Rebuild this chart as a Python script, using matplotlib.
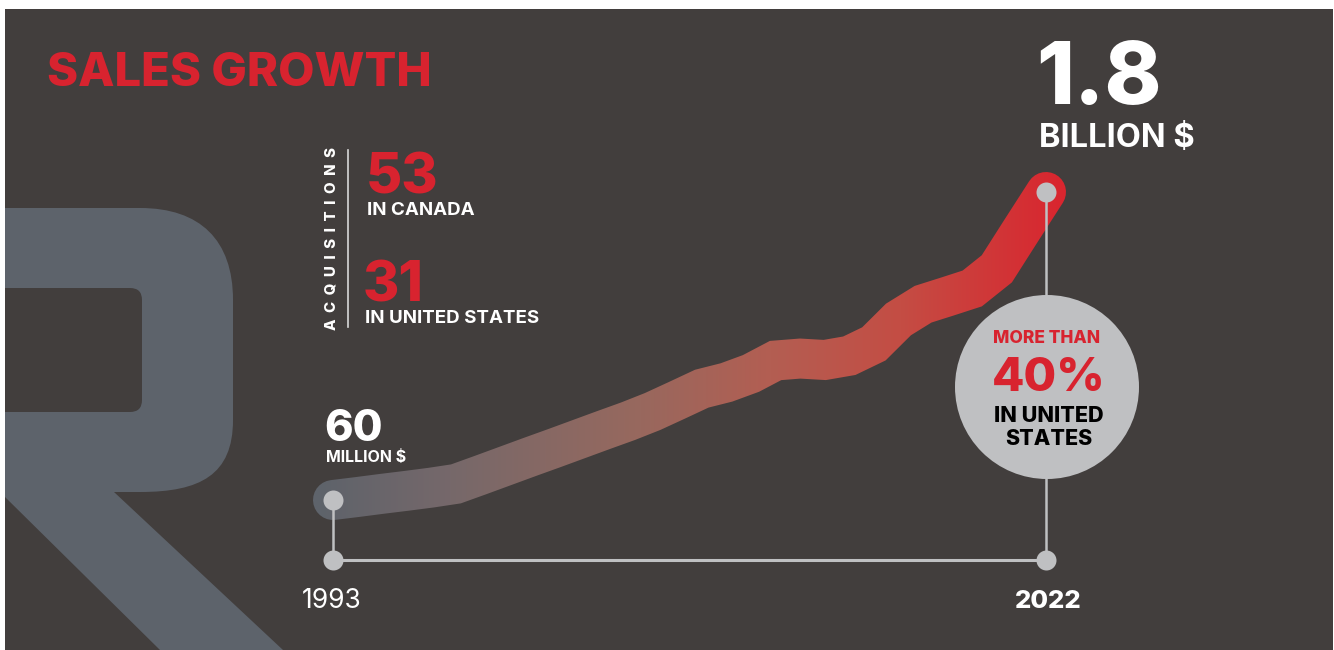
import numpy as np
import matplotlib
matplotlib.use("Agg")
import matplotlib.pyplot as plt
from matplotlib.patches import Rectangle, Circle, PathPatch, FancyBboxPatch
from matplotlib.path import Path

# sales, millions of $
years = list(range(1993, 2023))
sales = [60, 77, 95, 112, 130, 151, 201, 252, 303, 353,
         404, 455, 505, 560, 624, 689, 724, 775, 848, 859,
         851, 875, 942, 1080, 1166, 1210, 1255, 1366, 1584, 1800]

acq_canada = 53
acq_us = 31
us_share = 40

W, H = 1334, 650
BG = "#423e3d"
RED = "#d8232f"
GREY = "#bfc0c2"
R_GREY = "#5d636b"
FONT = "Inter"

# pixel layout of the chart part
x0_px, x1_px = 333, 1046
y0_px, y1_px = 500, 192
base_px = 560

ppy = (x1_px - x0_px) / (years[-1] - years[0])
ppv = (y0_px - y1_px) / (sales[-1] - sales[0])
xlim = (years[0] - x0_px / ppy, years[0] + (W - x0_px) / ppy)
ylim = (sales[0] - (H - y0_px) / ppv, sales[0] + y0_px / ppv)
base_val = sales[0] - (base_px - y0_px) / ppv

LW = 40 * 72 / 100  # band width, points


def data_axes(fig):
    a = fig.add_axes([0, 0, 1, 1])
    a.set_xlim(xlim)
    a.set_ylim(ylim)
    a.axis("off")
    return a


def band_mask():
    f2 = plt.figure(figsize=(W / 100, H / 100), dpi=100)
    a2 = data_axes(f2)
    a2.plot(years, sales, color="black", lw=LW,
            solid_capstyle="round", solid_joinstyle="miter")
    f2.canvas.draw()
    buf = np.asarray(f2.canvas.buffer_rgba()).astype(float)
    plt.close(f2)
    return 1 - buf[..., 0] / 255.0


fig = plt.figure(figsize=(W / 100, H / 100), dpi=100)

# background layer
bg = fig.add_axes([0, 0, 1, 1], zorder=0)
bg.set_xlim(0, W)
bg.set_ylim(H, 0)
bg.axis("off")
panel = Rectangle((5, 9), W - 6, H - 9, color=BG, lw=0)
bg.add_patch(panel)

# the big R in the background
verts = [(5, 208), (140, 208),
         (200, 208), (233, 240), (233, 300),
         (233, 420),
         (233, 475), (200, 492), (140, 492),
         (114, 492), (283, 650), (160, 650), (5, 497), (5, 208)]
codes = [Path.MOVETO, Path.LINETO,
         Path.CURVE4, Path.CURVE4, Path.CURVE4,
         Path.LINETO,
         Path.CURVE4, Path.CURVE4, Path.CURVE4,
         Path.LINETO, Path.LINETO, Path.LINETO, Path.LINETO, Path.CLOSEPOLY]
bg.add_patch(PathPatch(Path(verts, codes), color=R_GREY, lw=0))
hole = FancyBboxPatch((-40, 288), 182, 124,
                      boxstyle="round,pad=0,rounding_size=12",
                      color=BG, lw=0)
bg.add_patch(hole)
hole.set_clip_path(panel)

# data layer
ax = data_axes(fig)
ax.set_zorder(1)
ax.patch.set_visible(False)

mask = band_mask()
stops_x = [320, 450, 640, 770, 900, 1060]
stops_c = ["#5e636b", "#76686a", "#98685e", "#b35e52", "#c44d44", "#d9262f"]
stops_rgb = np.array([matplotlib.colors.to_rgb(c) for c in stops_c])
cols = np.arange(W)
grad = np.stack([np.interp(cols, stops_x, stops_rgb[:, i]) for i in range(3)], axis=-1)
rgba = np.zeros((H, W, 4))
rgba[..., :3] = grad[None, :, :]
rgba[..., 3] = mask
ax.imshow(rgba, extent=(xlim[0], xlim[1], ylim[0], ylim[1]), origin="upper",
          aspect="auto", interpolation="nearest", zorder=2)
ax.set_xlim(xlim)
ax.set_ylim(ylim)

# timeline
ax.plot([years[0], years[-1]], [base_val, base_val], color=GREY, lw=2.2, zorder=3)
ax.plot([years[0], years[0]], [sales[0], base_val], color=GREY, lw=1.8, zorder=3)
ax.plot([years[-1], years[-1]], [sales[-1], base_val], color=GREY, lw=1.8, zorder=3)
ax.scatter([years[0], years[-1], years[0], years[-1]],
           [sales[0], sales[-1], base_val, base_val],
           s=(20 * 0.72) ** 2, color=GREY, lw=0, zorder=5)

# foreground: texts and the bubble
fg = fig.add_axes([0, 0, 1, 1], zorder=2)
fg.set_xlim(0, W)
fg.set_ylim(H, 0)
fg.axis("off")
fg.patch.set_visible(False)

fg.add_patch(Circle((1047, 387), 92, color=GREY, lw=0))


def txt(x, y, s, size, color="white", weight="bold", ha="left", **kw):
    fg.text(x, y, s, fontsize=size, color=color, fontweight=weight,
            family=FONT, ha=ha, va="baseline", **kw)


txt(47, 86, "SALES GROWTH", 34, RED, "heavy")

fg.text(332, 238, "  ".join("ACQUISITIONS"), fontsize=10.8, color="white",
        fontweight="heavy", family=FONT, rotation=90, ha="center", va="center")
fg.plot([348, 348], [150, 327], color="#d8d8d8", lw=1.2)

txt(366, 193, str(acq_canada), 40, RED, "heavy")
txt(367, 215, "IN CANADA", 13.5)
txt(363, 301, str(acq_us), 40, RED, "heavy")
txt(365, 323, "IN UNITED STATES", 13.5)

txt(324, 441, f"{sales[0]}", 31, weight="heavy")
txt(326, 462, "MILLION $", 11.5)

txt(1036, 104, f"{sales[-1] / 1000:.1f}", 62, weight="heavy")
txt(1039, 147, "BILLION $", 23.5)

txt(1047, 343, "MORE THAN", 12.5, RED, "heavy", ha="center")
txt(1049, 391, f"{us_share}%", 34, RED, "heavy", ha="center")
txt(1049, 422, "IN UNITED", 15.5, "black", "heavy", ha="center")
txt(1049, 445, "STATES", 15.5, "black", "heavy", ha="center")

txt(332, 608, str(years[0]), 19, weight="normal", ha="center")
txt(1048, 608, str(years[-1]), 18.5, weight="heavy", ha="center")

fig.savefig("out.png", dpi=100, facecolor="white")
